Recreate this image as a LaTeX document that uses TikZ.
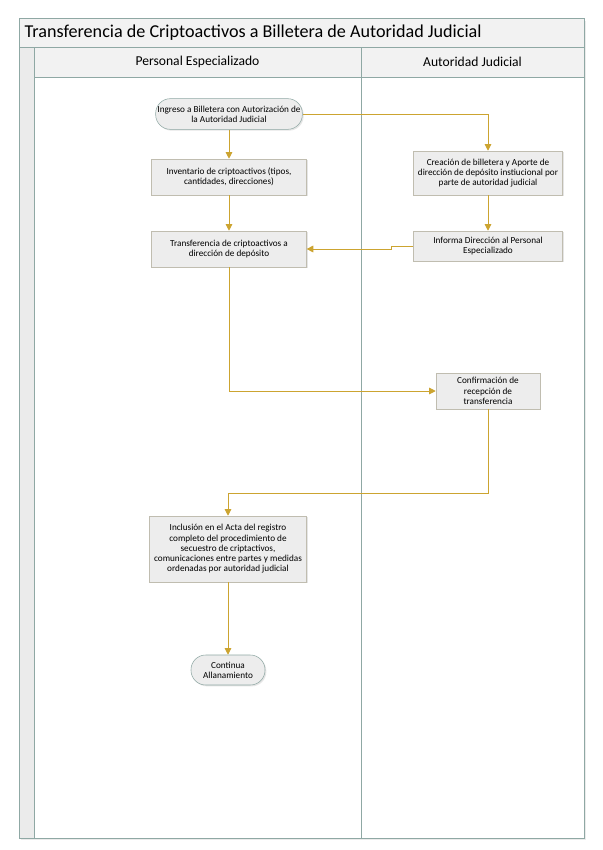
\documentclass[tikz,border=0pt]{standalone}
\usepackage{fontspec}
\setmainfont{Carlito}
\usetikzlibrary{arrows.meta,shadows}
\definecolor{lanegray}{RGB}{143,168,164}
\definecolor{flowgold}{RGB}{204,164,48}
\definecolor{boxfill}{RGB}{237,237,237}
\definecolor{boxline}{RGB}{192,189,176}
\begin{document}
\begin{tikzpicture}[x=0.75pt,y=-0.75pt,
	process/.style={draw=boxline,fill=boxfill,align=center,inner sep=1pt,
		font=\fontsize{6.9}{7.7}\selectfont,
		drop shadow={shadow xshift=1pt,shadow yshift=-1pt,fill=black!20}},
	terminal/.style={process,draw=lanegray,rounded corners=11pt},
	flow/.style={draw=flowgold,line width=0.7pt,-{Triangle[width=5pt,length=5pt]}}]
	\useasboundingbox (0,0) rectangle (603,850);
	% pool and lanes
	\fill[black!8] (21,21) rectangle (586,840);
	\filldraw[draw=lanegray,fill=white] (19,18) rectangle (584,838);
	\filldraw[draw=lanegray,fill=black!5] (19,18) rectangle (584,47);
	\filldraw[draw=lanegray,fill=black!8] (19,47) rectangle (34,838);
	\filldraw[draw=lanegray,fill=black!5] (34,47) rectangle (584,77);
	\draw[lanegray] (361,47) -- (361,838);
	\node[anchor=west,font=\fontsize{13.6}{15}\selectfont] at (20,32.5) {Transferencia de Criptoactivos a Billetera de Autoridad Judicial};
	\node[font=\fontsize{10.2}{12}\selectfont] at (197.5,62) {Personal Especializado};
	\node[font=\fontsize{10.2}{12}\selectfont] at (472.5,62) {Autoridad Judicial};
	% steps
	\node[terminal,minimum width=110pt,minimum height=23pt] (ingreso) at (229,114) {Ingreso a Billetera con Autorización de\\la Autoridad Judicial};
	\node[process,minimum width=116pt,minimum height=27pt] (inventario) at (229,177) {Inventario de criptoactivos (tipos,\\cantidades, direcciones)};
	\node[process,minimum width=116pt,minimum height=27pt] (transfer) at (229,249) {Transferencia de criptoactivos a\\dirección de depósito};
	\node[process,minimum width=112pt,minimum height=33pt] (creacion) at (488,173) {Creación de billetera y Aporte de\\dirección de depósito instiucional por\\parte de autoridad judicial};
	\node[process,minimum width=112pt,minimum height=22.5pt] (informa) at (488,246) {Informa Dirección al Personal\\Especializado};
	\node[process,minimum width=78pt,minimum height=27pt] (confirma) at (488,391) {Confirmación de\\recepción de\\transferencia};
	\node[process,minimum width=118pt,minimum height=49.5pt] (inclusion) at (228,549) {Inclusión en el Acta del registro\\completo del procedimiento de\\secuestro de criptactivos,\\comunicaciones entre partes y medidas\\ordenadas por autoridad judicial};
	\node[terminal,minimum width=55.5pt,minimum height=22.5pt] (continua) at (228,670) {Continua\\Allanamiento};
	\coordinate (vuelta) at (488,493);
	% connectors
	\draw[flow] (ingreso) -- (inventario);
	\draw[flow] (inventario) -- (transfer);
	\draw[flow] (ingreso.east) -| (creacion.north);
	\draw[flow] (creacion) -- (informa);
	\draw[flow] (informa.west) -- ++(-22,0) |- (transfer.east);
	\draw[flow] (transfer.south) |- (confirma.west);
	\draw[flow] (confirma.south) -- (vuelta) -| (inclusion.north);
	\draw[flow] (inclusion) -- (continua);
\end{tikzpicture}
\end{document}
